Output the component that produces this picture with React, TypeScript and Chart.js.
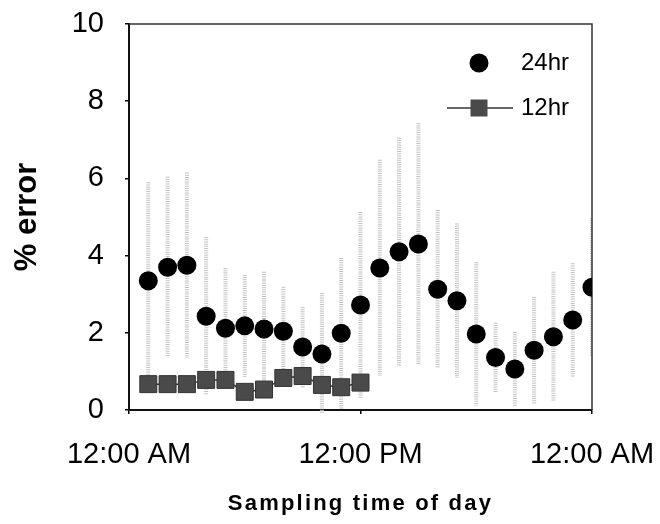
import React, { useEffect, useRef } from 'react';
import { Chart, registerables } from 'chart.js';

Chart.register(...registerables);

// ---- data ----
const hours24 = [1, 2, 3, 4, 5, 6, 7, 8, 9, 10, 11, 12, 13, 14, 15, 16, 17, 18, 19, 20, 21, 22, 23, 24];
const error24 = [3.35, 3.7, 3.75, 2.43, 2.12, 2.18, 2.1, 2.04, 1.63, 1.45, 1.99, 2.72, 3.68, 4.1, 4.3, 3.13, 2.83, 1.97, 1.36, 1.06, 1.55, 1.9, 2.33, 3.18];
const sd24 = [2.55, 2.34, 2.4, 2.05, 1.56, 1.32, 1.48, 1.15, 1.04, 1.58, 1.95, 2.41, 2.8, 2.95, 3.13, 2.05, 2.0, 1.86, 0.9, 0.96, 1.38, 1.68, 1.47, 1.79];
const hours12 = [1, 2, 3, 4, 5, 6, 7, 8, 9, 10, 11, 12];
const error12 = [0.67, 0.67, 0.67, 0.78, 0.78, 0.47, 0.53, 0.83, 0.88, 0.65, 0.59, 0.71];
const xTickValues = [0, 12, 24];
const xTickLabels = ['12:00 AM', '12:00 PM', '12:00 AM'];
const seriesNames = ['24hr', '12hr'];
const xTitle = 'Sampling time of day';
const yTitle = '% error';

const FONT = '"Liberation Sans", Arial, Helvetica, sans-serif';

const errorBarPlugin = {
  id: 'errorBars',
  beforeDatasetsDraw(chart: any) {
    const { ctx, chartArea, scales } = chart;
    const x = scales.x;
    const y = scales.y;
    ctx.save();
    ctx.beginPath();
    ctx.rect(chartArea.left, chartArea.top, chartArea.right - chartArea.left, chartArea.bottom - chartArea.top + 3);
    ctx.clip();
    ctx.strokeStyle = '#c2c2c2';
    ctx.lineWidth = 4;
    ctx.setLineDash([1, 1.2]);
    hours24.forEach((h, i) => {
      const px = x.getPixelForValue(h);
      ctx.beginPath();
      ctx.moveTo(px, y.getPixelForValue(error24[i] + sd24[i]));
      ctx.lineTo(px, y.getPixelForValue(error24[i] - sd24[i]));
      ctx.stroke();
    });
    ctx.restore();
  },
};

const framePlugin = {
  id: 'frame',
  beforeDatasetsDraw(chart: any) {
    const { ctx, chartArea } = chart;
    ctx.save();
    ctx.strokeStyle = '#333';
    ctx.lineWidth = 1.5;
    ctx.beginPath();
    ctx.moveTo(chartArea.left, chartArea.top);
    ctx.lineTo(chartArea.right, chartArea.top);
    ctx.lineTo(chartArea.right, chartArea.bottom);
    ctx.stroke();
    ctx.restore();
  },
};

const legendPlugin = {
  id: 'customLegend',
  afterDatasetsDraw(chart: any) {
    const { ctx, chartArea } = chart;
    const cx = chartArea.right - 113;
    const y1 = chartArea.top + 39;
    const y2 = chartArea.top + 84;
    const tx = chartArea.right - 71;
    ctx.save();
    ctx.fillStyle = '#000';
    ctx.beginPath();
    ctx.arc(cx, y1, 9.5, 0, Math.PI * 2);
    ctx.fill();
    ctx.strokeStyle = '#333';
    ctx.lineWidth = 1.5;
    ctx.beginPath();
    ctx.moveTo(cx - 32, y2);
    ctx.lineTo(cx + 34, y2);
    ctx.stroke();
    ctx.fillStyle = '#4a4a4a';
    ctx.fillRect(cx - 8.5, y2 - 8.5, 17, 17);
    ctx.fillStyle = '#000';
    ctx.font = `24px ${FONT}`;
    ctx.textBaseline = 'middle';
    ctx.textAlign = 'left';
    ctx.fillText(seriesNames[0], tx, y1);
    ctx.fillText(seriesNames[1], tx, y2);
    ctx.restore();
  },
};

const titleSpacingPlugin = {
  id: 'titleSpacing',
  beforeDraw(chart: any) {
    const sx = chart.scales.x;
    if (sx && !sx.__patched) {
      const orig = sx.drawTitle.bind(sx);
      sx.drawTitle = function () {
        const c = this.ctx;
        const prev = c.letterSpacing;
        c.letterSpacing = '2.2px';
        orig();
        c.letterSpacing = prev || '0px';
      };
      sx.__patched = true;
    }
  },
};

export default function App() {
  const ref = useRef<HTMLCanvasElement | null>(null);

  useEffect(() => {
    if (!ref.current) return;
    const chart = new Chart(ref.current, {
      type: 'line',
      data: {
        datasets: [
          {
            label: seriesNames[0],
            data: hours24.map((h, i) => ({ x: h, y: error24[i] })),
            showLine: false,
            pointStyle: 'circle',
            pointRadius: 9.5,
            pointBackgroundColor: '#000',
            pointBorderColor: '#000',
            pointBorderWidth: 0,
            borderColor: '#000',
            backgroundColor: '#000',
          },
          {
            label: seriesNames[1],
            data: hours12.map((h, i) => ({ x: h, y: error12[i] })),
            showLine: true,
            borderColor: '#333',
            borderWidth: 1.5,
            pointStyle: 'rect',
            pointRadius: 12,
            pointBackgroundColor: '#4a4a4a',
            pointBorderColor: '#333',
            pointBorderWidth: 1,
            backgroundColor: '#4a4a4a',
          },
        ],
      },
      options: {
        responsive: false,
        animation: false,
        layout: { padding: { top: 24, right: 68, left: 0, bottom: 0 } },
        plugins: {
          legend: { display: false },
          tooltip: { enabled: false },
          title: { display: false },
        },
        scales: {
          x: {
            type: 'linear',
            min: 0,
            max: 24,
            afterBuildTicks: (scale: any) => {
              scale.ticks = xTickValues.map((v) => ({ value: v }));
            },
            afterFit: (scale: any) => {
              scale.height = 114;
              scale.paddingLeft = 0;
              scale.paddingRight = 0;
            },
            grid: { display: true, drawOnChartArea: false, drawTicks: true, tickLength: 4, color: '#000', lineWidth: 1.5 },
            border: { display: true, color: '#111', width: 2 },
            ticks: {
              autoSkip: false,
              maxRotation: 0,
              minRotation: 0,
              padding: 24,
              color: '#000',
              font: { family: FONT, size: 29 },
              callback: (value: any) => {
                const idx = xTickValues.indexOf(Number(value));
                return idx >= 0 ? xTickLabels[idx] : '';
              },
            },
            title: {
              display: true,
              text: xTitle,
              color: '#000',
              font: { family: FONT, size: 22, weight: 'bold' },
              padding: { top: 0, bottom: 7 },
            },
          },
          y: {
            type: 'linear',
            min: 0,
            max: 10,
            afterFit: (scale: any) => {
              scale.width = 129;
              scale.paddingTop = 0;
              scale.paddingBottom = 0;
            },
            grid: { display: true, drawOnChartArea: false, drawTicks: true, tickLength: 4, color: '#000', lineWidth: 1.5 },
            border: { display: true, color: '#111', width: 2 },
            ticks: {
              stepSize: 2,
              padding: 21,
              color: '#000',
              font: { family: FONT, size: 29 },
            },
            title: {
              display: true,
              text: yTitle,
              color: '#000',
              font: { family: FONT, size: 31, weight: 'bold' },
              padding: { top: 9, bottom: 0 },
            },
          },
        },
      },
      plugins: [errorBarPlugin, framePlugin, legendPlugin, titleSpacingPlugin],
    } as any);
    return () => chart.destroy();
  }, []);

  return (
    <div style={{ position: 'fixed', left: 0, top: 0, width: 660, height: 524, background: '#fff' }}>
      <canvas ref={ref} width={660} height={524} style={{ display: 'block', width: 660, height: 524 }} />
    </div>
  );
}
